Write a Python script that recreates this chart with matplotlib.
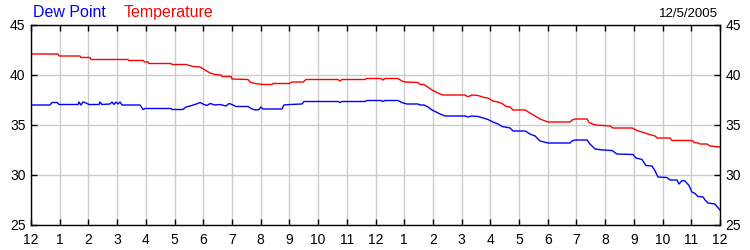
import matplotlib
matplotlib.use("Agg")
import matplotlib.pyplot as plt

plt.rcParams["font.family"] = ["Liberation Sans", "DejaVu Sans"]

# =========================
# Data (hours since midnight, degrees)
# =========================
temp_hours = [0.00, 0.94, 0.98, 1.71, 1.74, 2.06, 2.09, 3.38, 3.41, 3.90, 3.97, 4.08,
              4.11, 4.88, 4.91, 5.40, 5.64, 5.89, 6.06, 6.24, 6.41, 6.62, 6.65, 6.97,
              7.00, 7.56, 7.63, 7.80, 8.08, 8.40, 8.43, 9.02, 9.09, 9.48, 9.58, 10.69,
              10.76, 10.83, 11.63, 11.70, 12.19, 12.26, 12.33, 12.78, 12.92, 13.03, 13.48,
              13.55, 13.69, 13.97, 14.25, 14.35, 15.12, 15.19, 15.29, 15.36, 15.57, 15.78,
              15.92, 16.09, 16.27, 16.41, 16.55, 16.69, 16.79, 17.21, 17.38, 17.56, 17.73,
              17.91, 18.01, 18.78, 18.85, 18.95, 19.37, 19.44, 19.65, 19.93, 20.17, 20.27,
              20.94, 21.11, 21.28, 21.49, 21.74, 21.81, 22.26, 22.33, 23.03, 23.10, 23.23,
              23.30, 23.55, 23.65, 24.00]
temp_values = [42.1, 42.1, 41.9, 41.9, 41.75, 41.75, 41.55, 41.55, 41.45, 41.45, 41.3, 41.3,
               41.15, 41.15, 41.05, 41.05, 40.85, 40.8, 40.5, 40.2, 40.05, 40.0, 39.85, 39.85,
               39.6, 39.55, 39.3, 39.15, 39.05, 39.05, 39.15, 39.15, 39.3, 39.3, 39.55, 39.55,
               39.4, 39.55, 39.55, 39.65, 39.65, 39.5, 39.65, 39.65, 39.4, 39.3, 39.25,
               39.05, 39.05, 38.5, 38.1, 38.0, 38.0, 37.85, 37.9, 38.0, 37.95, 37.75,
               37.7, 37.4, 37.3, 37.15, 36.85, 36.8, 36.5, 36.5, 36.2, 35.9, 35.6,
               35.4, 35.3, 35.3, 35.5, 35.6, 35.6, 35.25, 35.0, 34.95, 34.9, 34.7,
               34.7, 34.45, 34.3, 34.1, 33.9, 33.7, 33.7, 33.45, 33.45, 33.25, 33.2,
               33.1, 33.1, 32.9, 32.8]

dew_hours = [0.00, 0.66, 0.73, 0.91, 0.98, 1.64, 1.67, 1.74, 1.81, 1.88, 2.02, 2.37,
             2.40, 2.47, 2.75, 2.82, 2.89, 2.96, 3.03, 3.10, 3.17, 3.80, 3.90, 3.97,
             4.88, 4.91, 5.29, 5.40, 5.54, 5.71, 5.89, 5.99, 6.13, 6.24, 6.41, 6.58,
             6.79, 6.90, 7.00, 7.14, 7.56, 7.70, 7.84, 7.94, 8.01, 8.08, 8.74, 8.81,
             9.02, 9.44, 9.51, 10.69, 10.76, 10.83, 11.63, 11.70, 12.19, 12.26, 12.33,
             12.78, 12.96, 13.10, 13.48, 13.55, 13.69, 13.83, 13.97, 14.25, 14.42, 15.12,
             15.22, 15.36, 15.57, 15.81, 15.92, 16.09, 16.27, 16.41, 16.69, 16.79, 17.21,
             17.38, 17.56, 17.73, 18.01, 18.78, 18.84, 18.95, 19.37, 19.47, 19.65, 19.92,
             20.24, 20.41, 20.97, 21.07, 21.28, 21.42, 21.63, 21.74, 21.84, 22.15, 22.26,
             22.50, 22.57, 22.68, 22.78, 22.92, 23.02, 23.13, 23.23, 23.41, 23.48, 23.58,
             23.82, 24.00]
dew_values = [37.0, 37.0, 37.25, 37.25, 37.05, 37.05, 37.3, 37.0, 37.3, 37.25, 37.05, 37.05,
              37.3, 37.05, 37.1, 37.3, 37.05, 37.3, 37.1, 37.3, 37.0, 37.0, 36.55, 36.65,
              36.65, 36.55, 36.55, 36.8, 36.9, 37.05, 37.25, 37.1, 36.95, 37.15, 37.0, 37.05,
              36.9, 37.15, 37.05, 36.85, 36.85, 36.6, 36.5, 36.55, 36.8, 36.6, 36.6, 37.0,
              37.05, 37.1, 37.35, 37.35, 37.25, 37.35, 37.35, 37.45, 37.45, 37.35, 37.45,
              37.45, 37.2, 37.1, 37.1, 37.0, 37.0, 36.8, 36.5, 36.1, 35.9, 35.9,
              35.8, 35.9, 35.85, 35.65, 35.55, 35.3, 35.1, 34.85, 34.7, 34.4, 34.4,
              34.1, 33.9, 33.4, 33.2, 33.2, 33.4, 33.5, 33.5, 33.1, 32.6, 32.5,
              32.45, 32.1, 32.05, 31.7, 31.55, 30.95, 30.9, 30.4, 29.8, 29.75, 29.5,
              29.5, 29.1, 29.45, 29.4, 28.95, 28.3, 28.15, 27.85, 27.8, 27.5, 27.2,
              27.1, 26.5]

hour_labels = ["12", "1", "2", "3", "4", "5", "6", "7", "8", "9", "10", "11",
               "12", "1", "2", "3", "4", "5", "6", "7", "8", "9", "10", "11", "12"]
y_ticks = [25, 30, 35, 40, 45]
date_label = "12/5/2005"

# =========================
# Figure
# =========================
fig = plt.figure(figsize=(7.5, 2.5), dpi=100)
ax = fig.add_axes([31 / 750, 0.1, 689 / 750, 0.8])

ax.plot(dew_hours, dew_values, color="#0000ff", lw=1.0)
ax.plot(temp_hours, temp_values, color="#ff0000", lw=1.0)

ax.set_xlim(0, 24)
ax.set_ylim(25, 45)
ax.set_xticks(range(25))
ax.set_xticklabels(hour_labels)
ax.set_yticks(y_ticks)
ax.grid(True, color="#cccccc", lw=1.0)
ax.set_axisbelow(True)

ax.tick_params(axis="both", direction="in", length=4, width=1, labelsize=10,
               top=True, right=True, labelright=True)
ax.tick_params(axis="x", pad=6)
ax.tick_params(axis="y", pad=4)
for spine in ax.spines.values():
    spine.set_linewidth(1.0)
    spine.set_color("black")

fig.text(33 / 750, 1 - 17 / 250, "Dew Point", color="#0000ff", fontsize=11.5)
fig.text(124 / 750, 1 - 17 / 250, "Temperature", color="#ff0000", fontsize=11.5)
fig.text(718 / 750, 1 - 17 / 250, date_label, color="black", fontsize=9.5, ha="right")

fig.savefig("out.png", dpi=100)
